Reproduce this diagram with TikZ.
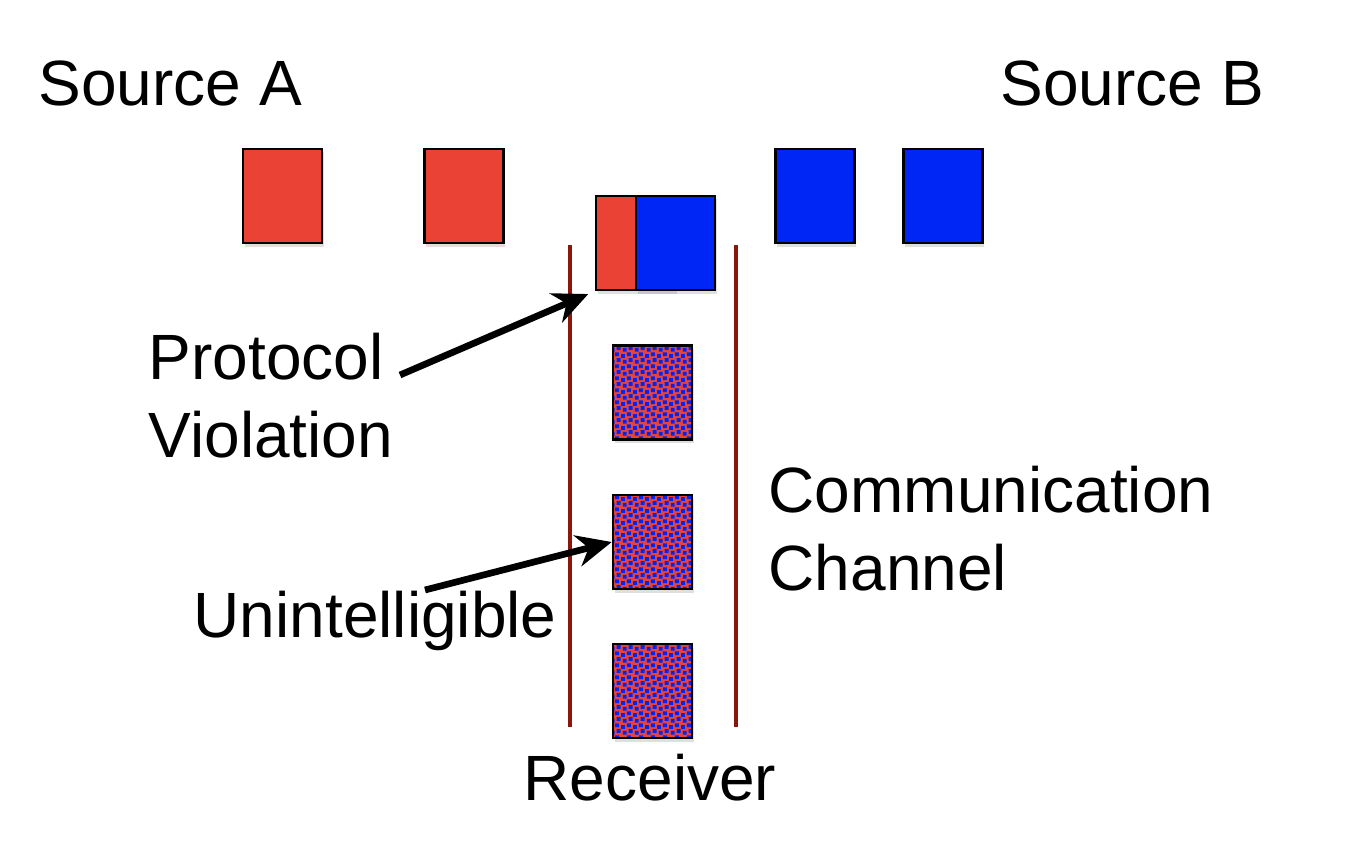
\documentclass[tikz,border=0pt]{standalone}
\usepackage{fontspec}
\setmainfont{Liberation Sans}
\definecolor{pktred}{RGB}{234,67,54}
\definecolor{pktblue}{RGB}{0,38,245}
\definecolor{wirered}{RGB}{140,22,12}
\usetikzlibrary{arrows.meta, shadows, patterns.meta}
\tikzdeclarepattern{
  name=garble,
  type=uncolored,
  bounding box={(0,0) and (3.4pt,3.4pt)},
  tile size={(3.4pt,3.4pt)},
  code={
    \fill (0pt,0pt) rectangle (1.1pt,1.1pt);
    \fill (1.7pt,0.5pt) rectangle (2.8pt,1.6pt);
    \fill (0.5pt,1.8pt) rectangle (1.6pt,2.9pt);
    \fill (2.2pt,2.3pt) rectangle (3.3pt,3.4pt);
  }
}

\begin{document}
\begin{tikzpicture}[x=0.01cm, y=-0.01cm,
  pkt/.style={draw=black, line width=0.7pt, minimum width=0.79cm,
    minimum height=0.94cm, inner sep=0pt,
    drop shadow={shadow xshift=0.5pt, shadow yshift=-1pt, opacity=0.25}},
  mix/.style={pkt, preaction={fill=pktred}, pattern=garble, pattern color=pktblue},
  wire/.style={wirered, line width=1.2pt},
  arw/.style={-{Stealth[length=10pt, width=9pt]}, line width=1.9pt, black},
  lbl/.style={inner sep=0pt, align=left, font=\fontsize{18.2pt}{21.9pt}\selectfont},
]
\useasboundingbox (0,0) rectangle (1360,860);
\node[lbl, anchor=base west] (srca) at (38,105) {Source A};
\node[lbl, anchor=base west] (srcb) at (1000,105) {Source B};
\node[pkt, fill=pktred] (a1) at (282.5,196) {};
\node[pkt, fill=pktred] (a2) at (464,196) {};
\node[pkt, fill=pktblue] (b1) at (815,196) {};
\node[pkt, fill=pktblue] (b2) at (943,196) {};
\coordinate (lt) at (570,245);
\coordinate (lb) at (570,727);
\coordinate (rt) at (736,245);
\coordinate (rb) at (736,727);
\draw[wire] (lt) -- (lb);
\draw[wire] (rt) -- (rb);
\node[pkt, fill=pktred] (cr) at (635.5,243) {};
\node[pkt, fill=pktblue] (cb) at (675.5,243) {};
\node[mix] (g1) at (652.5,392.5) {};
\node[mix] (g2) at (652.5,542) {};
\node[mix] (g3) at (652.5,691) {};
\node[lbl, anchor=base west] (pv) at (148,457) {Protocol\\Violation};
\node[lbl, anchor=base west] (chan) at (768,590) {Communication\\Channel};
\node[lbl, anchor=base west] (ui) at (193,637) {Unintelligible};
\node[lbl, anchor=base west] (rx) at (523,800) {Receiver};
\coordinate (pvtail) at (400,375);
\coordinate (uitail) at (425,590);
\draw[arw, shorten >=2pt] (pvtail) -- (cr.south west);
\draw[arw] (uitail) -- (g2.west);
\end{tikzpicture}
\end{document}
